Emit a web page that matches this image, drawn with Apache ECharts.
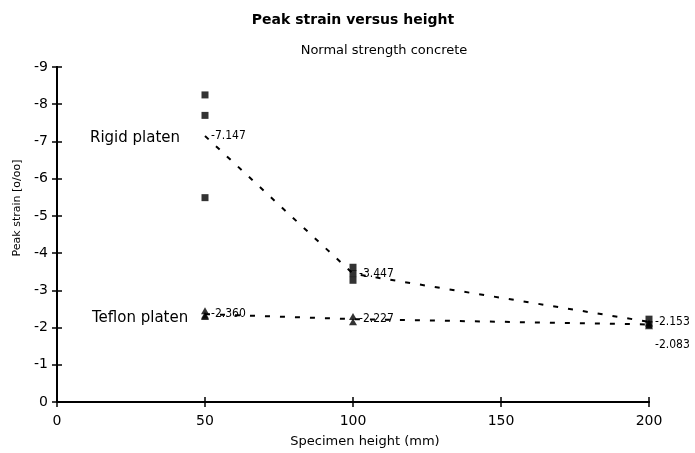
<!DOCTYPE html>
<html><head><meta charset="utf-8">
<script src="https://cdn.jsdelivr.net/npm/echarts@6/dist/echarts.min.js"></script>
<style>html,body{margin:0;padding:0;background:#fff}#c{width:695px;height:453px}</style>
</head><body><div id="c"></div>
<script>
// Specimen heights (mm) where the means are plotted
const heights = [50, 100, 200];
// Mean peak strain per height (o/oo)
const rigidMean = [-7.147, -3.447, -2.153];
const teflonMean = [-2.360, -2.227, -2.083];
// Individual test results
const rigidX = [50, 50, 50, 100, 100, 100, 200, 200];
const rigidY = [-8.25, -7.70, -5.49, -3.62, -3.45, -3.27, -2.226, -2.08];
const teflonX = [50, 50, 50, 100, 100, 200, 200];
const teflonY = [-2.45, -2.30, -2.33, -2.30, -2.154, -2.12, -2.046];
// Text
const seriesNames = ['Rigid platen', 'Teflon platen'];
const titleText = 'Peak strain versus height';
const subtitleText = 'Normal strength concrete';
const xName = 'Specimen height (mm)';
const yName = 'Peak strain [o/oo]';

const FONT = '"DejaVu Sans", sans-serif';
const FONT_C = '"DejaVu Sans Condensed", "DejaVu Sans", sans-serif';
const zip = (xs, ys) => xs.map((x, i) => [x, ys[i]]);

const chart = echarts.init(document.getElementById('c'), null, {renderer: 'canvas'});

const axisLine = {show: true, lineStyle: {color: '#000', width: 2}};
const baseX = {
  type: 'value', min: 0, max: 200, interval: 50,
  splitLine: {show: false}, axisLine: axisLine
};
const baseY = {
  type: 'value', min: -9, max: 0, interval: 1, inverse: true,
  splitLine: {show: false}, axisLine: axisLine
};

function meanLabel(extra) {
  return Object.assign({
    show: true, position: 'right', distance: 5,
    formatter: p => p.value[1].toFixed(3),
    color: '#000', fontFamily: FONT_C, fontSize: 12
  }, extra || {});
}

const hiddenPoint = {color: 'rgba(0,0,0,0)', borderWidth: 0};

chart.setOption({
  animation: false,
  backgroundColor: '#fff',
  title: [
    {text: titleText, left: 348, top: 8, textAlign: 'center',
     textStyle: {fontFamily: FONT, fontWeight: 'bold', fontSize: 14, color: '#000'}},
    {text: subtitleText, left: 379, top: 39, textAlign: 'center',
     textStyle: {fontFamily: FONT, fontWeight: 'normal', fontSize: 13, color: '#000'}}
  ],
  grid: {left: 57, right: 46, top: 67, bottom: 51},
  xAxis: [
    Object.assign({}, baseX, {
      name: xName, nameLocation: 'middle', nameGap: 33,
      nameTextStyle: {fontFamily: FONT, fontSize: 13, color: '#000', padding: [0, 0, 0, 24]},
      axisTick: {show: true, length: 5, lineStyle: {color: '#000', width: 1.5}},
      axisLabel: {color: '#000', fontFamily: FONT, fontSize: 14, margin: 12}
    }),
    Object.assign({}, baseX, {
      position: 'bottom',
      axisTick: {show: true, inside: true, length: 5, lineStyle: {color: '#000', width: 1.5}},
      axisLabel: {show: false}
    })
  ],
  yAxis: [
    Object.assign({}, baseY, {
      axisTick: {show: true, length: 5, lineStyle: {color: '#000', width: 1.5}},
      axisLabel: {color: '#000', fontFamily: FONT, fontSize: 14, margin: 9}
    }),
    Object.assign({}, baseY, {
      position: 'left',
      axisTick: {show: true, inside: true, length: 5, lineStyle: {color: '#000', width: 1.5}},
      axisLabel: {show: false}
    })
  ],
  graphic: [
    {type: 'text', x: 17, y: 208, rotation: Math.PI / 2,
     style: {text: yName, font: '11px ' + FONT, fill: '#000', align: 'center', verticalAlign: 'middle'}},
    {type: 'text', left: 90, top: 131,
     style: {text: seriesNames[0], font: '15px ' + FONT, fill: '#000'}},
    {type: 'text', left: 92, top: 311,
     style: {text: seriesNames[1], font: '15px ' + FONT, fill: '#000'}}
  ],
  series: [
    {
      name: seriesNames[0] + ' mean', type: 'line',
      data: zip(heights, rigidMean),
      symbol: 'circle', symbolSize: 2, showSymbol: true,
      itemStyle: hiddenPoint,
      lineStyle: {color: '#000', width: 2, type: [5, 10]},
      label: meanLabel()
    },
    {
      name: seriesNames[1] + ' mean', type: 'line',
      data: zip(heights, teflonMean).map((d, i) => i === 2
        ? {value: d, label: meanLabel({offset: [0, 20]})}
        : d),
      symbol: 'circle', symbolSize: 2, showSymbol: true,
      itemStyle: hiddenPoint,
      lineStyle: {color: '#000', width: 2, type: [5, 10]},
      label: meanLabel()
    },
    {
      name: seriesNames[1], type: 'scatter',
      data: zip(teflonX, teflonY),
      symbol: 'triangle', symbolSize: [8, 7],
      itemStyle: {color: '#000'}
    },
    {
      name: seriesNames[0], type: 'scatter',
      data: zip(rigidX, rigidY),
      symbol: 'rect', symbolSize: [7, 7],
      itemStyle: {color: '#000'}
    }
  ]
});
</script>
</body></html>
